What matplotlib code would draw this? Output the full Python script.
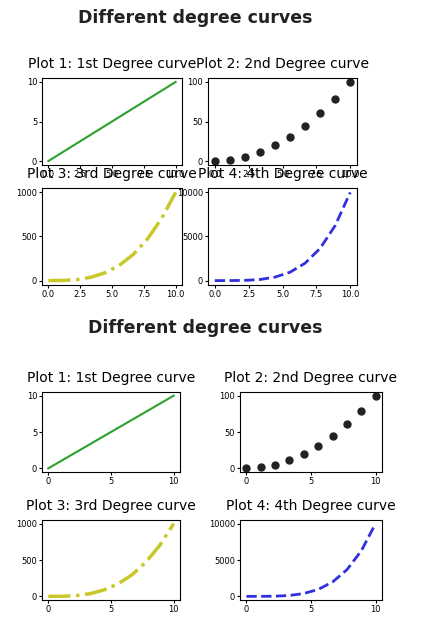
import matplotlib.pyplot as plt

x = [0.0, 1.11, 2.22, 3.33, 4.44, 5.56, 6.67, 7.78, 8.89, 10.0]
y1 = [0.0, 1.11, 2.22, 3.33, 4.44, 5.56, 6.67, 7.78, 8.89, 10.0]
y2 = [0.0, 1.23, 4.94, 11.1, 19.8, 30.9, 44.4, 60.5, 79.0, 100.0]
y3 = [0.0, 1.37, 11.0, 37.0, 87.8, 171.5, 296.3, 470.5, 702.3, 1000.0]
y4 = [0.0, 1.52, 24.4, 123.5, 390.2, 952.6, 1975.3, 3659.5, 6242.9, 10000.0]
titles = ["Plot 1: 1st Degree curve", "Plot 2: 2nd Degree curve",
          "Plot 3: 3rd Degree curve", "Plot 4: 4th Degree curve"]
yticks = [[0, 5, 10], [0, 50, 100], [0, 500, 1000], [0, 5000, 10000]]

W, H = 422, 629
fig = plt.figure(figsize=(W / 100, H / 100), dpi=100)


def box(l, t, r, b):
    return [l / W, 1 - b / H, (r - l) / W, (b - t) / H]


def draw(boxes, ticks, pad):
    axs = [fig.add_axes(box(*bx)) for bx in boxes]
    axs[0].plot(x, y1, color='#2ca02c', lw=1.5)
    axs[1].plot(x, y2, 'o', color='#222222', ms=5)
    axs[2].plot(x, y3, '-.', color='#c8c82a', lw=2.5)
    axs[3].plot(x, y4, '--', color='#3030e0', lw=2)
    for ax, t, yt in zip(axs, titles, yticks):
        ax.set_title(t, fontsize=10, pad=pad)
        ax.tick_params(labelsize=6, length=2, pad=1.5)
        ax.set_xticks(ticks)
        ax.set_yticks(yt)
    return axs


# top: no tight layout
fig.text(195 / W, 1 - 18 / H, "Different degree curves", ha='center', va='center',
         fontsize=12.5, fontweight='bold', color='#222222')
top = draw([(42, 78, 182, 165), (208, 78, 357, 165),
            (42, 188, 182, 285), (208, 188, 357, 285)],
           [0, 2.5, 5, 7.5, 10], 7)
for ax in top:
    ax.set_xticklabels(["0.0", "2.5", "5.0", "7.5", "10.0"])

# bottom: tight layout
fig.text(205 / W, 1 - 328 / H, "Different degree curves", ha='center', va='center',
         fontsize=12.5, fontweight='bold', color='#222222')
draw([(42, 392, 180, 472), (240, 392, 382, 472),
      (42, 520, 180, 600), (240, 520, 382, 600)],
     [0, 5, 10], 7)

fig.savefig("out.png", dpi=100)
